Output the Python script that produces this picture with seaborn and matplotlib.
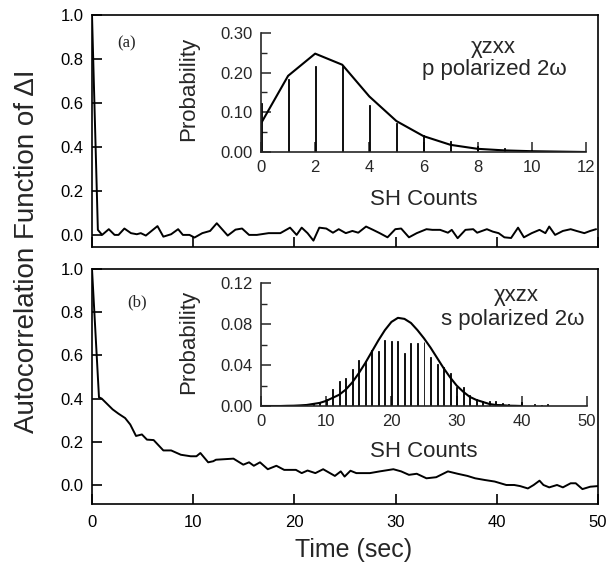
import matplotlib
matplotlib.use("Agg")
import matplotlib.pyplot as plt
import seaborn as sns
from matplotlib.ticker import FormatStrFormatter, MultipleLocator

# ---------------- data ----------------
# (a) autocorrelation, chi_zxx
time_a = [0.0, 0.58, 1.0, 1.66, 2.23, 2.62, 3.20, 3.85, 4.43, 4.82, 5.32, 6.47, 7.05,
          7.82, 8.51, 8.98, 9.63, 10.13, 10.90, 11.67, 12.33, 13.41, 14.18, 14.83, 15.52,
          16.29, 17.45, 18.61, 19.57, 20.22, 20.72, 21.30, 21.88, 22.46, 23.15, 23.81,
          24.38, 25.08, 25.73, 26.31, 27.08, 27.77, 28.43, 29.20, 29.97, 30.55, 31.32,
          32.09, 33.05, 33.63, 34.40, 35.17, 35.55, 36.13, 36.90, 37.67, 38.06, 39.02,
          39.60, 40.18, 40.75, 41.41, 42.10, 42.68, 43.45, 44.22, 44.80, 45.18, 45.76,
          46.53, 47.30, 47.88, 48.65, 49.23, 49.81]
acf_a = [1.0, 0.023, 0.0, 0.026, 0.0, 0.0, 0.029, 0.008, 0.003, 0.008, -0.003, 0.040, -0.008,
         0.003, 0.026, 0.0, 0.0, -0.012, 0.008, 0.018, 0.053, -0.003, 0.024, 0.029, 0.0,
         0.0, 0.008, 0.008, 0.033, 0.0, 0.033, 0.008, -0.026, 0.033, 0.029, 0.010,
         0.026, 0.008, 0.018, 0.010, 0.038, 0.023, 0.008, -0.011, 0.026, 0.029, -0.011,
         0.008, 0.026, 0.023, 0.023, 0.010, 0.023, -0.015, 0.023, 0.026, 0.010, 0.026,
         0.015, 0.008, -0.011, -0.014, 0.033, -0.011, 0.008, 0.023, 0.008, 0.038, 0.0,
         0.018, 0.026, 0.018, 0.008, 0.018, 0.026]

# (b) autocorrelation, chi_xzx
time_b = [0.0, 0.69, 0.96, 2.04, 2.62, 3.27, 3.78, 4.35, 4.93, 5.43, 6.09, 7.05, 7.82, 8.78,
          9.75, 10.32, 10.71, 11.48, 11.98, 12.25, 13.98, 14.95, 15.52, 15.99, 16.60,
          17.37, 18.22, 18.99, 20.15, 20.72, 21.30, 22.07, 22.84, 24.00, 24.58, 24.96,
          25.54, 26.12, 27.46, 28.43, 29.78, 30.55, 31.32, 32.09, 33.05, 34.01, 35.17,
          36.13, 37.10, 37.86, 38.83, 39.79, 40.94, 41.72, 42.30, 43.07, 43.64, 44.22,
          44.61, 45.18, 45.95, 46.53, 47.30, 47.80, 48.46, 49.23, 50.0]
acf_b = [1.0, 0.406, 0.40, 0.35, 0.33, 0.31, 0.28, 0.227, 0.234, 0.21, 0.208, 0.16, 0.16,
         0.14, 0.133, 0.133, 0.148, 0.105, 0.11, 0.117, 0.122, 0.094, 0.105, 0.089, 0.105,
         0.073, 0.089, 0.07, 0.07, 0.055, 0.067, 0.055, 0.073, 0.042, 0.063, 0.039,
         0.066, 0.055, 0.055, 0.063, 0.073, 0.063, 0.047, 0.052, 0.031, 0.036, 0.063,
         0.052, 0.042, 0.031, 0.023, 0.016, 0.0, 0.0, -0.005, -0.016, 0.0, 0.02,
         0.0, -0.011, 0.0, -0.011, 0.008, 0.008, -0.019, -0.008, -0.005]

# inset (a): SH count distribution, p polarized
counts_a = [0, 1, 2, 3, 4, 5, 6, 7, 8, 9, 10, 11, 12]
prob_a = [0.124, 0.184, 0.216, 0.216, 0.118, 0.072, 0.044, 0.028, 0.014, 0.010, 0.006, 0.003, 0.002]
fit_a = [0.072, 0.192, 0.248, 0.220, 0.140, 0.078, 0.040, 0.018, 0.008, 0.004, 0.002, 0.001, 0.0]

# inset (b): SH count distribution, s polarized
counts_b = list(range(0, 46))
prob_b = [0.004, 0.0, 0.0, 0.0, 0.001, 0.001, 0.0, 0.002, 0.003, 0.004,
          0.007, 0.017, 0.024, 0.027, 0.036, 0.045, 0.044, 0.055, 0.054, 0.064,
          0.063, 0.063, 0.052, 0.061, 0.061, 0.062, 0.048, 0.041, 0.038, 0.032,
          0.019, 0.019, 0.011, 0.007, 0.005, 0.005, 0.005, 0.003, 0.002, 0.001,
          0.004, 0.0, 0.002, 0.001, 0.002, 0.0]
fit_x_b = list(range(0, 41))
fit_b = [0.0, 0.0, 0.0, 0.0, 0.0002, 0.0003, 0.0006, 0.001, 0.002, 0.003,
         0.005, 0.008, 0.011, 0.016, 0.023, 0.032, 0.042, 0.053, 0.064, 0.074,
         0.082, 0.086, 0.085, 0.081, 0.074, 0.066, 0.057, 0.047, 0.037, 0.028,
         0.020, 0.014, 0.009, 0.006, 0.004, 0.002, 0.001, 0.0008, 0.0003, 0.0002, 0.0]

main_yticks = [0.0, 0.2, 0.4, 0.6, 0.8, 1.0]
main_xticks = [0, 10, 20, 30, 40, 50]

# ---------------- style ----------------
sns.set_style("ticks")
plt.rcParams["font.family"] = ["Liberation Sans", "DejaVu Sans"]
plt.rcParams["axes.linewidth"] = 1.2

W, H = 611, 564
fig = plt.figure(figsize=(W / 100, H / 100), dpi=100)


def rect(l, t, r, b):
    return [l / W, 1 - b / H, (r - l) / W, (b - t) / H]


ax_a = fig.add_axes(rect(92, 15, 598, 247))
ax_b = fig.add_axes(rect(92, 269, 598, 504))
ins_a = fig.add_axes(rect(261, 33, 586, 152))
ins_b = fig.add_axes(rect(261, 283, 587, 406))

# main panels
sns.lineplot(x=time_a, y=acf_a, ax=ax_a, color="black", lw=1.4, sort=False)
sns.lineplot(x=time_b, y=acf_b, ax=ax_b, color="black", lw=1.4, sort=False)

for ax, ymin in ((ax_a, -0.055), (ax_b, -0.088)):
    ax.set_xlim(0, 50)
    ax.set_ylim(ymin, 1.0)
    ax.set_yticks(main_yticks)
    ax.yaxis.set_major_formatter(FormatStrFormatter("%.1f"))
    ax.set_xticks(main_xticks)
    ax.tick_params(direction="in", length=7, width=1.2, labelsize=12, pad=6,
                   top=False, right=False, colors="black")
    ax.set_xlabel("")
    ax.set_ylabel("")
    for s in ax.spines.values():
        s.set_visible(True)
        s.set_linewidth(1.2)
        s.set_color("black")

ax_a.tick_params(labelbottom=False)
ax_b.tick_params(axis="x", pad=8)
ax_b.set_xlabel("Time (sec)", fontsize=18)
ax_b.xaxis.set_label_coords(0.516, -0.145)

fig.text(27 / W, 1 - 251 / H, "Autocorrelation Function of ΔI", rotation=90,
         ha="center", va="center", fontsize=20)

fig.text(127 / W, 1 - 43 / H, "(a)", family="Liberation Serif", fontsize=12,
         ha="center", va="center")
fig.text(137 / W, 1 - 302 / H, "(b)", family="Liberation Serif", fontsize=12,
         ha="center", va="center")

# insets
sns.barplot(x=counts_a, y=prob_a, ax=ins_a, native_scale=True, width=0.04,
            color="black", edgecolor="black", linewidth=0.6, errorbar=None)
sns.lineplot(x=counts_a, y=fit_a, ax=ins_a, color="black", lw=1.5, sort=False)
sns.barplot(x=counts_b, y=prob_b, ax=ins_b, native_scale=True, width=0.15,
            color="black", edgecolor="black", linewidth=0.6, errorbar=None)
sns.lineplot(x=fit_x_b, y=fit_b, ax=ins_b, color="black", lw=1.5, sort=False)

ins_a.set_xlim(0, 12)
ins_a.set_ylim(0, 0.30)
ins_a.set_xticks([0, 2, 4, 6, 8, 10, 12])
ins_a.set_yticks([0.0, 0.10, 0.20, 0.30])
ins_a.yaxis.set_minor_locator(MultipleLocator(0.05))
ins_a.yaxis.set_major_formatter(FormatStrFormatter("%.2f"))

ins_b.set_xlim(0, 50)
ins_b.set_ylim(0, 0.12)
ins_b.set_xticks([0, 10, 20, 30, 40, 50])
ins_b.set_yticks([0.0, 0.04, 0.08, 0.12])
ins_b.yaxis.set_minor_locator(MultipleLocator(0.02))
ins_b.yaxis.set_major_formatter(FormatStrFormatter("%.2f"))

for ins, lab_y_coord in ((ins_a, -0.31), (ins_b, -0.285)):
    ins.patch.set_alpha(0)
    ins.spines["top"].set_visible(False)
    ins.spines["right"].set_visible(False)
    ins.spines["left"].set_linewidth(1.2)
    ins.spines["bottom"].set_linewidth(1.2)
    ins.tick_params(which="major", direction="in", length=7, width=1.1,
                    labelsize=12, pad=6, top=False, right=False)
    ins.tick_params(which="minor", direction="in", length=4, width=1.0)
    ins.set_xlabel("SH Counts", fontsize=16)
    ins.set_ylabel("Probability", fontsize=16)
    ins.xaxis.set_label_coords(0.5, lab_y_coord)

ins_a.yaxis.set_label_coords((199 - 261) / 325, 0.53)
ins_b.yaxis.set_label_coords((199 - 261) / 326, 0.52)

fig.text(493 / W, 1 - 47 / H, "χzxx", fontsize=16, ha="center", va="center")
fig.text(494 / W, 1 - 69 / H, "p polarized 2ω", fontsize=16, ha="center", va="center")
fig.text(516 / W, 1 - 295 / H, "χxzx", fontsize=16, ha="center", va="center")
fig.text(513 / W, 1 - 319 / H, "s polarized 2ω", fontsize=16, ha="center", va="center")

fig.savefig("out.png", dpi=100)
